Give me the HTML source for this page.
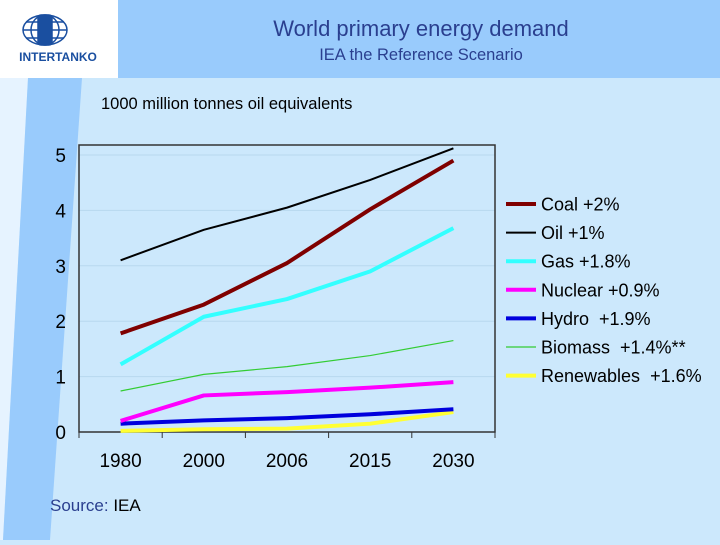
<!DOCTYPE html>
<html><head><meta charset="utf-8"><style>
body{margin:0;width:720px;height:540px;overflow:hidden;background:#cce8fc;font-family:"Liberation Sans",sans-serif;}
text{white-space:pre;}
</style></head><body>
<svg width="720" height="540" viewBox="0 0 720 540" xmlns="http://www.w3.org/2000/svg">
<rect x="0" y="0" width="720" height="540" fill="#cce8fc"/>
<polygon points="0,78 28,78 3,540 0,540" fill="#e6f3ff"/>
<rect x="118" y="0" width="602" height="78" fill="#99cbfc"/>
<polygon points="28,78 82,78 50,540 3,540" fill="#99cbfc"/>
<rect x="0" y="0" width="118" height="78" fill="#ffffff"/>
<g fill="none" stroke="#1a4fa0" stroke-width="1.5">
<ellipse cx="45" cy="30" rx="22" ry="15"/>
<ellipse cx="45" cy="30" rx="14" ry="15"/>
<line x1="23" y1="30" x2="67" y2="30"/><line x1="26" y1="22" x2="64" y2="22"/><line x1="26" y1="38" x2="64" y2="38"/>
<rect x="38" y="15" width="14" height="30" fill="#1a4fa0" rx="3"/>
</g>
<text x="58" y="61" font-size="12" font-weight="bold" fill="#1a4fa0" text-anchor="middle">INTERTANKO</text>
<text x="421" y="36" font-size="22" fill="#2a3f8f" text-anchor="middle">World primary energy demand</text>
<text x="421" y="60" font-size="16.5" fill="#2a3f8f" text-anchor="middle">IEA the Reference Scenario</text>
<text x="101" y="109" font-size="16.5" fill="#000">1000 million tonnes oil equivalents</text>
<text x="50" y="511" font-size="17" fill="#2a3f8f">Source: <tspan fill="#000">IEA</tspan></text>
<g id="chart"></g>
</svg>
<script>
const categories=["1980","2000","2006","2015","2030"];
const yTicks=[0,1,2,3,4,5];
const coal=[1.78,2.3,3.05,4.02,4.9];
const oil=[3.1,3.65,4.05,4.55,5.12];
const gas=[1.22,2.08,2.4,2.9,3.68];
const nuclear=[0.2,0.66,0.72,0.8,0.9];
const hydro=[0.15,0.21,0.25,0.32,0.41];
const biomass=[0.74,1.04,1.18,1.38,1.65];
const renewables=[0.02,0.05,0.06,0.15,0.36];
const seriesNames=["Coal +2%","Oil +1%","Gas +1.8%","Nuclear +0.9%","Hydro  +1.9%","Biomass  +1.4%**","Renewables  +1.6%"];
const seriesData=[coal,oil,gas,nuclear,hydro,biomass,renewables];
const colors=["#7f0000","#000000","#33ffff","#ff00ff","#0000dd","#33cc33","#ffff33"];
const widths=[4,2,4,4,4,1.2,4];
const keys=["coal","oil","gas","nuclear","hydro","biomass","renewables"];
const NS="http://www.w3.org/2000/svg";
const g=document.getElementById('chart');
const X0=79,X1=495,Y0=432,Y5=155;
const bw=(X1-X0)/categories.length;
function xPos(i){return X0+bw*(i+0.5);}
function yPos(v){return Y0-(Y0-Y5)*v/5;}
function mk(t,a){const e=document.createElementNS(NS,t);for(const k in a)e.setAttribute(k,a[k]);g.appendChild(e);return e;}
yTicks.forEach(t=>{
 if(t>0){const l=mk('line',{x1:X0,x2:X1,y1:yPos(t),y2:yPos(t),stroke:'#b8d8ee','stroke-width':1});
 
 }
 const tx=mk('text',{x:66,y:yPos(t)+7,'font-size':19,'text-anchor':'end',fill:'#000'});
 tx.textContent=t;
 
 
});
const frame=mk('rect',{x:X0,y:145,width:X1-X0,height:Y0-145,fill:'none',stroke:'#333','stroke-width':1.5});


for(let i=0;i<=categories.length;i++){
 const tk=mk('line',{x1:X0+bw*i,x2:X0+bw*i,y1:Y0,y2:Y0+6,stroke:'#333','stroke-width':1});
 
 
}
categories.forEach((c,i)=>{
 const tx=mk('text',{x:xPos(i),y:467,'font-size':19,'text-anchor':'middle',fill:'#000'});
 tx.textContent=c;
 
 
});
const order=[5,6,4,3,2,0,1];
order.forEach(s=>{
 const pts=seriesData[s].map((v,i)=>xPos(i)+','+yPos(v)).join(' ');
 const pl=mk('polyline',{points:pts,fill:'none',stroke:colors[s],'stroke-width':widths[s],'stroke-linejoin':'round'});
 
 
});
seriesNames.forEach((n,s)=>{
 const y=204+s*28.6;
 const l=mk('line',{x1:506,x2:536,y1:y,y2:y,stroke:colors[s],'stroke-width':widths[s]});
 
 
 const t=mk('text',{x:541,y:y+6.5,'font-size':18,fill:'#000'});
 t.textContent=n;
 
 
});
</script>
</body></html>
